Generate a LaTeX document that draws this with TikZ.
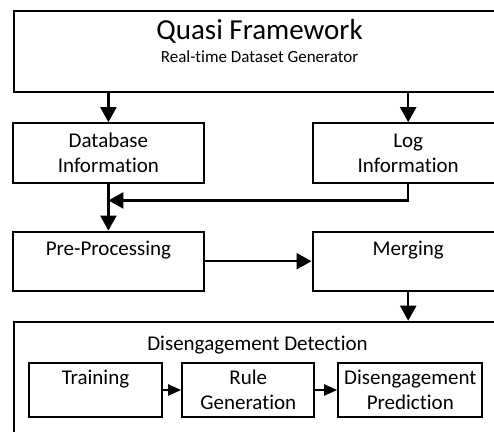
\documentclass[tikz,border=0pt]{standalone}
\usepackage{fontspec}
\setmainfont{Carlito}[Ligatures=NoCommon]
\usepackage{tikz}
\usetikzlibrary{arrows.meta}
\usetikzlibrary{calc}

\tikzset{
  blk/.style = {draw, line width=2.3pt, align=center, inner sep=0pt,
                font=\fontsize{21}{25}\selectfont},
  arr/.style = {line width=2.3pt, -{Triangle[length=15pt,width=16pt]}},
  sarr/.style = {line width=2.3pt, -{Triangle[length=13pt,width=11pt]}},
}

\begin{document}
\begin{tikzpicture}[x=1pt,y=-1pt]
\useasboundingbox (0,0) rectangle (494,431);
\clip (0,0) rectangle (494,431);

\node[blk, anchor=north west, minimum width=493pt, minimum height=81pt] (qf) at (12.7,9.5) {};
\node[anchor=base, font=\fontsize{29}{34}\selectfont] (qft) at (259.5,39) {Quasi Framework};
\node[anchor=base, font=\fontsize{17}{20}\selectfont] (qfs) at (259.5,62) {Real-time Dataset Generator};

\node[blk, minimum width=191pt, minimum height=59.4pt] (db) at (108.4,153) {Database\\Information};
\node[blk, minimum width=191pt, minimum height=59.4pt] (lg) at (408.2,153) {Log\\Information};
\node[blk, minimum width=191pt, minimum height=59pt] (pp) at (108.4,261.2) {Pre-Processing\\\mbox{}};
\node[blk, minimum width=191pt, minimum height=59pt] (mg) at (408.2,261.2) {Merging\\\mbox{}};

\node[blk, anchor=north west, minimum width=493pt, minimum height=140pt] (dd) at (12.7,320.7) {};
\node[anchor=base, font=\fontsize{21}{25}\selectfont] (ddt) at (257.5,350) {Disengagement Detection};
\node[blk, minimum width=132.4pt, minimum height=53.4pt] (tr) at (95.5,390) {Training\\\mbox{}};
\node[blk, minimum width=132pt, minimum height=53.4pt] (rg) at (248.3,390) {Rule\\Generation};
\node[blk, minimum width=144pt, minimum height=53.4pt] (dp) at (410.3,390) {Disengagement\\Prediction};

\coordinate (jn) at ([yshift=-16.6pt]db.south);

\draw[arr] (db.north |- qf.south) -- (db.north);
\draw[arr] (lg.north |- qf.south) -- (lg.north);
\draw[arr] (lg.south) |- (jn);
\draw[arr] (db.south) -- (pp.north);
\draw[arr] (pp.east) -- (mg.west);
\draw[arr] (mg.south) -- (mg.south |- dd.north);
\draw[sarr] (tr.east) -- (rg.west);
\draw[sarr] (rg.east) -- (dp.west);
\end{tikzpicture}
\end{document}
